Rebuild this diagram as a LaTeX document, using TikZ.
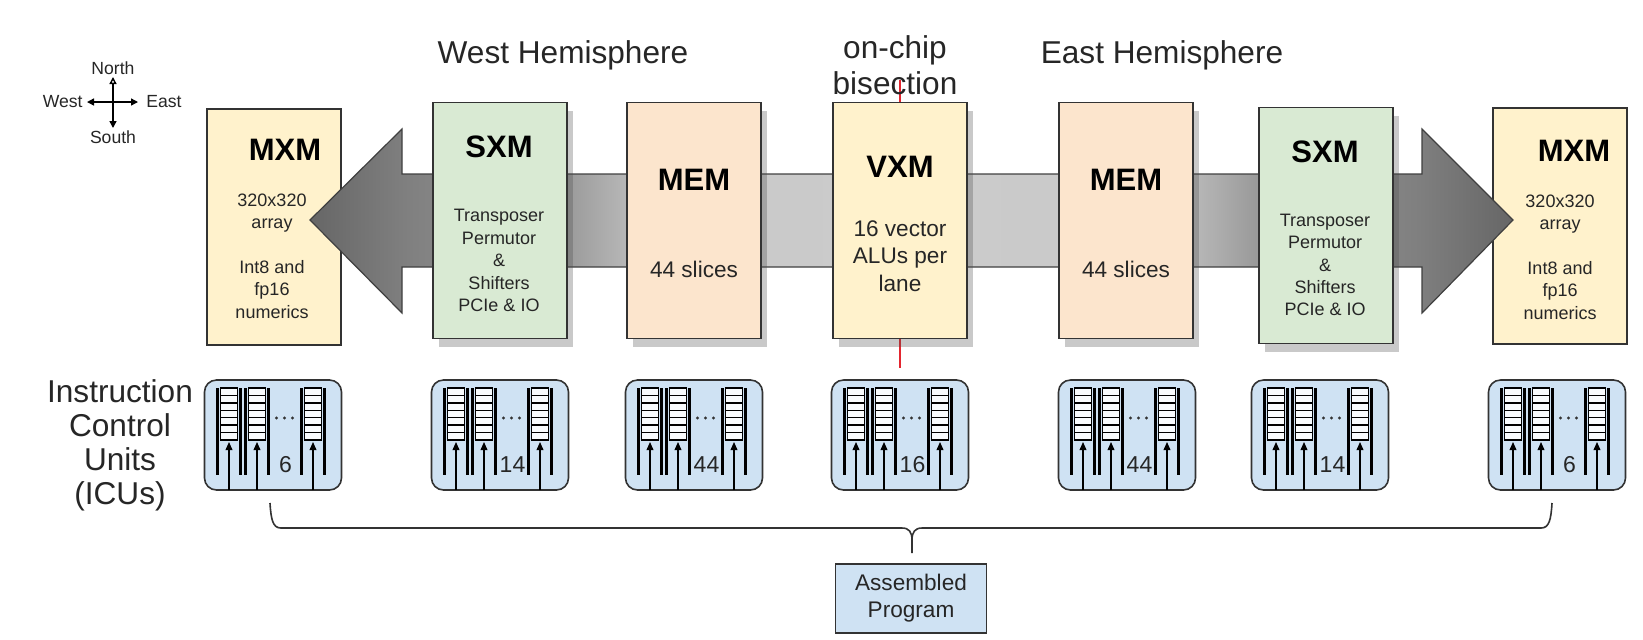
\documentclass[tikz,border=0pt]{standalone}
\usepackage{fontspec}
\setmainfont{Liberation Sans}
\usetikzlibrary{arrows.meta,shadows,positioning}

\definecolor{mxmyellow}{HTML}{FFF2CC}
\definecolor{sxmgreen}{HTML}{D9EAD3}
\definecolor{mempeach}{HTML}{FCE5CD}
\definecolor{icublue}{HTML}{CFE2F3}
\definecolor{boxline}{HTML}{333333}
\definecolor{cutred}{HTML}{E3262F}

\newcommand{\setfs}[2]{\fontsize{#1}{#2}\selectfont}

\pgfdeclarehorizontalshading{busshade}{100bp}{color(0bp)=(black!60); color(25bp)=(black!60);
  color(29bp)=(black!50); color(35.6bp)=(black!40); color(38.2bp)=(black!28); color(43.7bp)=(black!21);
  color(50bp)=(black!20); color(56.3bp)=(black!21); color(61.8bp)=(black!28); color(64.4bp)=(black!40);
  color(71bp)=(black!50); color(75bp)=(black!60); color(100bp)=(black!60)}

\begin{document}
\begin{tikzpicture}[x=0.5pt, y=-0.5pt,
    unit/.style={draw=boxline, line width=0.8pt, minimum width=67pt, minimum height=118pt, inner sep=0pt},
    shadowed/.style={drop shadow={shadow xshift=3pt, shadow yshift=-4pt, opacity=0.3, fill=black!70}},
    title/.style={font=\bfseries\setfs{15.5}{18}},
    subtxt/.style={align=center, font=\setfs{9}{11.2}, text=black!85},
    bigsub/.style={align=center, font=\setfs{11.3}{13.8}, text=black!85},
    heading/.style={align=center, font=\setfs{15.8}{18}, text=black!85},
    icubox/.style={draw=boxline, line width=0.8pt, fill=icublue, rounded corners=6pt, minimum width=68.5pt, minimum height=55pt, inner sep=0pt},
    rail/.style={line width=1.1pt},
    cell/.style={line width=0.7pt, fill=white!85!icublue},
    feed/.style={line width=0.6pt, -{Triangle[length=4pt,width=3.4pt]}},
    icunum/.style={font=\setfs{11.5}{13}, text=black!85},
    cmp/.style={font=\setfs{8.8}{10}, inner sep=1pt, text=black!85},
    cmparrow/.style={line width=0.7pt}]
    \useasboundingbox (0,0) rectangle (1643,639);

    % compass
    \coordinate (cmpN) at (113,77);
    \coordinate (cmpS) at (113,128);
    \coordinate (cmpW) at (87,102);
    \coordinate (cmpE) at (138,102);
    \draw[cmparrow, {Triangle[length=3.5pt,width=3.5pt]}-{Triangle[open,length=3.5pt,width=3.5pt]}] (cmpS) -- (cmpN);
    \draw[cmparrow, {Triangle[length=3.5pt,width=3.5pt]}-{Triangle[length=3.5pt,width=3.5pt]}] (cmpW) -- (cmpE);
    \node[cmp, above=0pt] (lblN) at (cmpN) {North};
    \node[cmp, below=0pt] (lblS) at (cmpS) {South};
    \node[cmp, left=1pt] (lblW) at (cmpW) {West};
    \node[cmp, right=3pt] (lblE) at (cmpE) {East};

    % --- MXM ends sit under the bus ---
    \node[unit, fill=mxmyellow] (mxmW) at (274,227) {};
    \node[unit, fill=mxmyellow] (mxmE) at (1560,226) {};

    % bus with both heads
    \shade[shading=busshade, draw=black!75, line width=0.6pt]
      (310,220) -- (402,129) -- (402,174) -- (1422,174) -- (1422,129) -- (1513,220)
      -- (1422,313) -- (1422,267) -- (402,267) -- (402,313) -- cycle;

    % bisection cut
    \coordinate (cutTop) at (900,80);
    \coordinate (cutBot) at (900,368);
    \draw[cutred, line width=1pt] (cutTop) -- (cutBot);

    % --- units on the bus ---
    \node[unit, shadowed, fill=sxmgreen] (sxmW) at (500,220.5) {};
    \node[unit, shadowed, fill=mempeach] (memW) at (694,220.5) {};
    \node[unit, shadowed, fill=mxmyellow] (vxm) at (900,220.5) {};
    \node[unit, shadowed, fill=mempeach] (memE) at (1126,220.5) {};
    \node[unit, shadowed, fill=sxmgreen] (sxmE) at (1326,225.5) {};

    % titles and texts
    \node[title] (mxmWt) at (285,150) {MXM};
    \node[subtxt] (mxmWs) at (272,256) {320x320\\array\\[11pt]Int8 and\\fp16\\numerics};
    \node[title] (sxmWt) at (499,147) {SXM};
    \node[subtxt] (sxmWs) at (499,260.5) {Transposer\\Permutor\\\&\\Shifters\\PCIe \& IO};
    \node[title] (memWt) at (694,180) {MEM};
    \node[bigsub] (memWs) at (694,269) {44 slices};
    \node[title] (vxmt) at (900,167) {VXM};
    \node[bigsub] (vxms) at (900,256) {16 vector\\ALUs per\\lane};
    \node[title] (memEt) at (1126,180) {MEM};
    \node[bigsub] (memEs) at (1126,269) {44 slices};
    \node[title] (sxmEt) at (1325,152) {SXM};
    \node[subtxt] (sxmEs) at (1325,265) {Transposer\\Permutor\\\&\\Shifters\\PCIe \& IO};
    \node[title] (mxmEt) at (1574,151) {MXM};
    \node[subtxt] (mxmEs) at (1560,257) {320x320\\array\\[11pt]Int8 and\\fp16\\numerics};

    \node[heading] (westlbl) at (563,55) {West Hemisphere};
    \node[heading] (eastlbl) at (1162,55) {East Hemisphere};
    \node[heading] (cutlbl) at (895,65) {on-chip\\bisection};

    % --- ICUs ---
    \node[heading, font=\setfs{15.8}{17}] (iculbl) at (120,445) {Instruction\\Control\\Units\\(ICUs)};
    \foreach \cx/\num/\nm in {273/6/icuMXMw, 500/14/icuSXMw, 694/44/icuMEMw, 900/16/icuVXM,
                              1127/44/icuMEMe, 1320/14/icuSXMe, 1557/6/icuMXMe}{
      \node[icubox] (\nm) at (\cx,435) {};
      \begin{scope}[shift={(\cx-68.5,380)}]
        \foreach \ox in {13,41,97}{
          \foreach \k in {0,...,6}
            \draw[cell] (\ox+3,8+\k*7.4) rectangle (\ox+20,15.4+\k*7.4);
          \draw[rail] (\ox,8) -- (\ox,95);
          \draw[rail] (\ox+23,8) -- (\ox+23,95);
          \draw[feed] (\ox+11.5,110) -- (\ox+11.5,62);
        }
        \foreach \dx in {72,80,88}
          \fill[black!80] (\dx,38) circle (0.8pt);
        \node[icunum] (\nm-n) at (81,85) {\num};
      \end{scope}
    }

    % brace to the program
    \coordinate (braceL) at (270,503);
    \coordinate (braceR) at (1552,503);
    \coordinate (braceTip) at (912,553);
    \draw[boxline, line width=0.8pt] (braceL) .. controls (271,520) and (273,528) .. (281,528) -- (902,528)
      .. controls (909,528) and (912,532) .. (912,540) -- (braceTip) -- (912,540)
      .. controls (912,532) and (915,528) .. (922,528) -- (1541,528)
      .. controls (1549,528) and (1551,520) .. (braceR);
    \node[draw=boxline, line width=0.8pt, fill=icublue, minimum width=75.5pt, minimum height=34.5pt,
          align=center, font=\setfs{11.3}{13.5}, text=black!85] (asm) at (911,598.5) {Assembled\\Program};
\end{tikzpicture}
\end{document}
